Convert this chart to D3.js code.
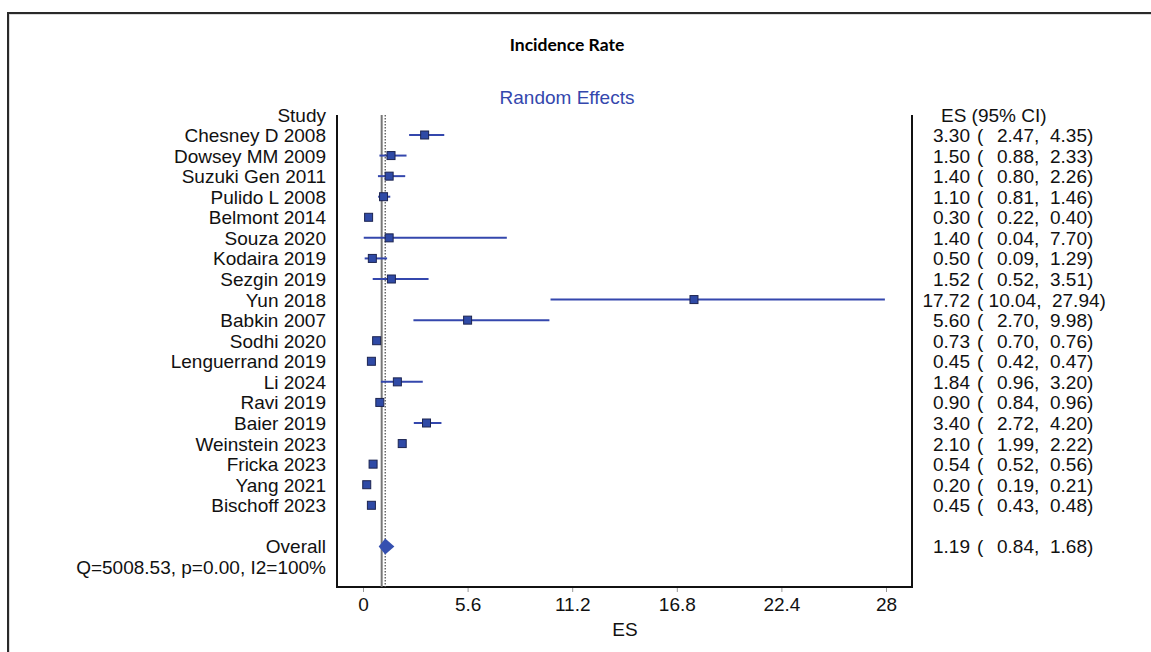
<!DOCTYPE html>
<html>
<head>
<meta charset="utf-8">
<script src="https://cdn.jsdelivr.net/npm/d3@7/dist/d3.min.js"></script>
<style>
  html, body { margin: 0; padding: 0; background: #fff; }
  svg { display: block; }
  text { font-family: "Liberation Sans", Arial, sans-serif; }
</style>
</head>
<body>
<svg id="chart" width="1151" height="652"></svg>
<script>
// ---- Data ----
const studies = ["Chesney D 2008","Dowsey MM 2009","Suzuki Gen 2011","Pulido L 2008","Belmont 2014",
  "Souza 2020","Kodaira 2019","Sezgin 2019","Yun 2018","Babkin 2007","Sodhi 2020","Lenguerrand 2019",
  "Li 2024","Ravi 2019","Baier 2019","Weinstein 2023","Fricka 2023","Yang 2021","Bischoff 2023"];
const es    = [3.30,1.50,1.40,1.10,0.30,1.40,0.50,1.52,17.72,5.60,0.73,0.45,1.84,0.90,3.40,2.10,0.54,0.20,0.45];
const lower = [2.47,0.88,0.80,0.81,0.22,0.04,0.09,0.52,10.04,2.70,0.70,0.42,0.96,0.84,2.72,1.99,0.52,0.19,0.43];
const upper = [4.35,2.33,2.26,1.46,0.40,7.70,1.29,3.51,27.94,9.98,0.76,0.47,3.20,0.96,4.20,2.22,0.56,0.21,0.48];
const overall = {label: "Overall", es: 1.19, lower: 0.84, upper: 1.68};
const heterogeneity = "Q=5008.53, p=0.00, I2=100%";
const nullValue = 1;
const xTicks = [0, 5.6, 11.2, 16.8, 22.4, 28];
const title = "Incidence Rate";
const subtitle = "Random Effects";
const xLabel = "ES";

// ---- Layout ----
const svg = d3.select("#chart");
const blue = "#3447ad";
const markFill = "#2f4aa6";
const fontSize = 19;

// Frame
svg.append("rect").attr("x", 9).attr("y", 14).attr("width", 1160).attr("height", 700)
  .attr("fill", "none").attr("stroke", "#cfcfcf").attr("stroke-width", 1.5);
svg.append("rect").attr("x", 8).attr("y", 13).attr("width", 1160).attr("height", 700)
  .attr("fill", "none").attr("stroke", "#2a2a2a").attr("stroke-width", 2);

const plotLeft = 337, plotRight = 912, plotTop = 115, plotBottom = 587;

const x = d3.scaleLinear().domain([0, 28]).range([363, 886]);
const y = d3.scaleLinear().domain([0, 21]).range([135, 567]);

// Titles
svg.append("text").attr("x", 567).attr("y", 51).attr("text-anchor", "middle")
  .style("font-family", "Lato, 'Open Sans', sans-serif").style("font-weight", "bold")
  .style("font-size", "17.5px").attr("fill", "#000").text(title);
svg.append("text").attr("x", 567).attr("y", 104).attr("text-anchor", "middle")
  .style("font-size", "19px").attr("fill", blue).text(subtitle);

// Axis frame lines
svg.append("line").attr("x1", plotLeft).attr("x2", plotLeft).attr("y1", plotTop).attr("y2", plotBottom)
  .attr("stroke", "#111").attr("stroke-width", 2);
svg.append("line").attr("x1", plotRight).attr("x2", plotRight).attr("y1", plotTop).attr("y2", plotBottom)
  .attr("stroke", "#111").attr("stroke-width", 2);

// Bottom axis
const xAxis = d3.axisBottom(x).tickValues(xTicks).tickSize(5).tickPadding(6)
  .tickFormat(d => String(d));
const gx = svg.append("g").attr("transform", `translate(0,${plotBottom})`).call(xAxis);
gx.select(".domain").remove();
gx.append("line").attr("x1", plotLeft - 1).attr("x2", plotRight + 1).attr("y1", 0).attr("y2", 0)
  .attr("stroke", "#111").attr("stroke-width", 2);
gx.selectAll(".tick line").attr("stroke", "#999").attr("stroke-width", 1);
gx.selectAll(".tick text").style("font-size", fontSize + "px")
  .style("font-family", "'Liberation Sans', Arial, sans-serif").attr("fill", "#111");

svg.append("text").attr("x", 625).attr("y", 636).attr("text-anchor", "middle")
  .style("font-size", fontSize + "px").attr("fill", "#111").text(xLabel);

// Null line and overall line
svg.append("line").attr("x1", x(nullValue)).attr("x2", x(nullValue)).attr("y1", plotTop).attr("y2", plotBottom)
  .attr("stroke", "#777").attr("stroke-width", 2);
svg.append("line").attr("x1", x(overall.es)).attr("x2", x(overall.es)).attr("y1", plotTop).attr("y2", plotBottom)
  .attr("stroke", "#555").attr("stroke-width", 1.3).attr("stroke-dasharray", "1.5,1.5");

// Headers
svg.append("text").attr("x", 326).attr("y", y(-1) + 8).attr("text-anchor", "end")
  .style("font-size", fontSize + "px").attr("fill", "#111").text("Study");
svg.append("text").attr("x", 941).attr("y", y(-1) + 8)
  .style("font-size", fontSize + "px").attr("fill", "#111").text("ES (95% CI)");

const rows = studies.map((s, i) => ({label: s, es: es[i], lower: lower[i], upper: upper[i], row: i}));

// Study labels
svg.append("g").selectAll("text").data(rows).join("text")
  .attr("x", 326).attr("y", d => y(d.row) + 7).attr("text-anchor", "end")
  .style("font-size", fontSize + "px").attr("fill", "#111").text(d => d.label);

// CI lines
svg.append("g").selectAll("line").data(rows).join("line")
  .attr("x1", d => x(d.lower)).attr("x2", d => x(d.upper))
  .attr("y1", d => y(d.row)).attr("y2", d => y(d.row))
  .attr("stroke", blue).attr("stroke-width", 2);

// Squares
const sq = 8;
svg.append("g").selectAll("rect").data(rows).join("rect")
  .attr("x", d => x(d.es) - sq / 2).attr("y", d => y(d.row) - sq / 2)
  .attr("width", sq).attr("height", sq)
  .attr("fill", markFill).attr("stroke", "#1c2450").attr("stroke-width", 1);

// Overall
const oy = y(20);
svg.append("path")
  .attr("d", `M${x(overall.lower)},${oy} L${x(overall.es)},${oy - 8} L${x(overall.upper)},${oy} L${x(overall.es)},${oy + 8} Z`)
  .attr("fill", "#3550b0");
svg.append("text").attr("x", 326).attr("y", oy + 7).attr("text-anchor", "end")
  .style("font-size", fontSize + "px").attr("fill", "#111").text(overall.label);
svg.append("text").attr("x", 326).attr("y", y(21) + 7).attr("text-anchor", "end")
  .style("font-size", fontSize + "px").attr("fill", "#111").text(heterogeneity);

// ES column
const allRows = rows.concat([{...overall, row: 20}]);
const f = d3.format(".2f");
const col = svg.append("g").style("font-size", fontSize + "px").attr("fill", "#111");
allRows.forEach(d => {
  const yy = y(d.row) + 7;
  col.append("text").attr("x", 970).attr("y", yy).attr("text-anchor", "end").text(f(d.es));
  if (d.lower >= 10) {
    col.append("text").attr("x", 977).attr("y", yy).attr("xml:space", "preserve")
      .text(`( ${f(d.lower)},  ${f(d.upper)})`);
  } else {
    col.append("text").attr("x", 977).attr("y", yy).text("(");
    col.append("text").attr("x", 1034).attr("y", yy).attr("text-anchor", "end").text(f(d.lower));
    col.append("text").attr("x", 1034).attr("y", yy).text(",");
    col.append("text").attr("x", 1087).attr("y", yy).attr("text-anchor", "end").text(f(d.upper));
    col.append("text").attr("x", 1087).attr("y", yy).text(")");
  }
});
</script>
</body>
</html>
